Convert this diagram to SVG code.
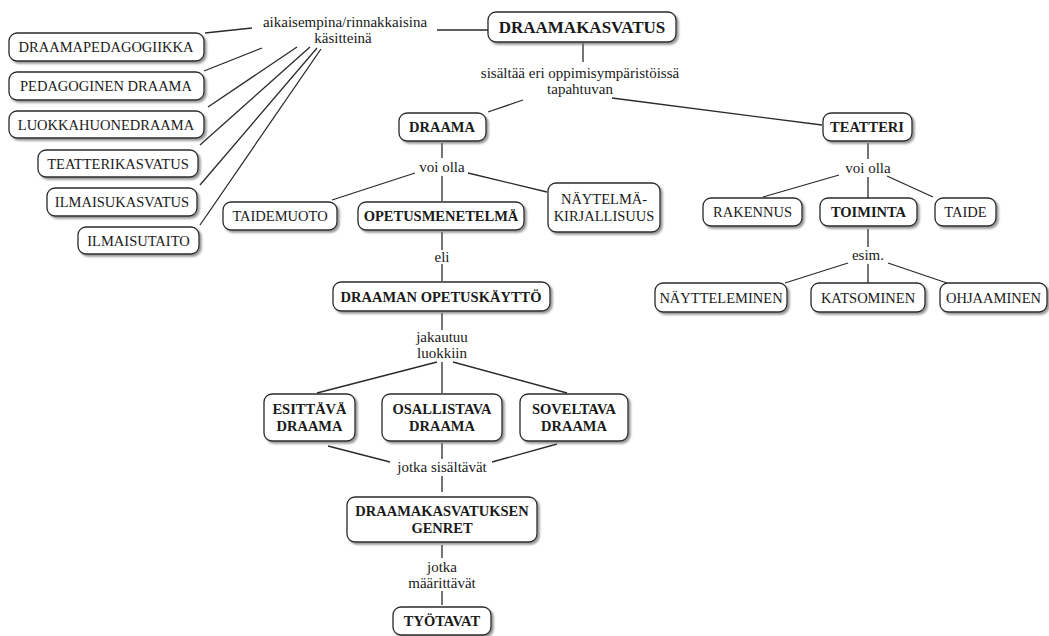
<svg xmlns="http://www.w3.org/2000/svg" width="1049" height="636" viewBox="0 0 1049 636">
<defs>
<filter id="sh" x="-10%" y="-20%" width="130%" height="160%">
<feDropShadow dx="2" dy="2" stdDeviation="1.3" flood-color="#777" flood-opacity="0.8"/>
</filter>
</defs>
<style>
.b{fill:#fff;stroke:#2a2a2a;stroke-width:1.3;filter:url(#sh)}
.t{font-family:'Liberation Serif','Times New Roman',serif;font-size:15px;fill:#1a1a1a;text-anchor:middle;dominant-baseline:central}
.u{font-size:14.5px}
.bd{font-weight:bold;font-size:14.5px}
.big{font-size:17px}
.c line{stroke:#2a2a2a;stroke-width:1.3}
</style>
<rect width="1049" height="636" fill="#fff"/>
<g class="c">
<line x1="437" y1="30" x2="488" y2="30"/>
<line x1="205" y1="33" x2="252" y2="28"/>
<line x1="204" y1="71" x2="262" y2="48"/>
<line x1="208" y1="107" x2="297" y2="47"/>
<line x1="200" y1="145" x2="310" y2="47"/>
<line x1="200" y1="185" x2="317" y2="48"/>
<line x1="200" y1="225" x2="321" y2="49"/>
<line x1="583" y1="43" x2="583" y2="62"/>
<line x1="523" y1="100" x2="488" y2="112"/>
<line x1="612" y1="98" x2="822" y2="125"/>
<line x1="442" y1="143" x2="442" y2="158"/>
<line x1="442" y1="176" x2="442" y2="201"/>
<line x1="415" y1="173" x2="332" y2="200"/>
<line x1="468" y1="173" x2="547" y2="192"/>
<line x1="442" y1="232" x2="442" y2="250"/>
<line x1="442" y1="264" x2="442" y2="281"/>
<line x1="442" y1="313" x2="442" y2="330"/>
<line x1="437" y1="362" x2="317" y2="393"/>
<line x1="442" y1="362" x2="442" y2="393"/>
<line x1="453" y1="362" x2="567" y2="393"/>
<line x1="328" y1="446" x2="390" y2="462"/>
<line x1="442" y1="443" x2="442" y2="459"/>
<line x1="557" y1="444" x2="492" y2="462"/>
<line x1="442" y1="476" x2="442" y2="492"/>
<line x1="442" y1="545" x2="442" y2="558"/>
<line x1="442" y1="591" x2="442" y2="605"/>
<line x1="868" y1="143" x2="868" y2="159"/>
<line x1="868" y1="177" x2="868" y2="198"/>
<line x1="839" y1="175" x2="763" y2="197"/>
<line x1="887" y1="176" x2="933" y2="197"/>
<line x1="868" y1="229" x2="868" y2="247"/>
<line x1="868" y1="264" x2="868" y2="283"/>
<line x1="848" y1="263" x2="785" y2="283"/>
<line x1="888" y1="263" x2="947" y2="283"/>
</g>
<g id="labels">
<text class="t" x="345" y="22">aikaisempina/rinnakkaisina</text>
<text class="t" x="343" y="38">käsitteinä</text>
<text class="t" x="580" y="73">sisältää eri oppimisympäristöissä</text>
<text class="t" x="580" y="89">tapahtuvan</text>
<text class="t" x="442" y="167">voi olla</text>
<text class="t" x="442" y="257">eli</text>
<text class="t" x="442" y="337">jakautuu</text>
<text class="t" x="442" y="353">luokkiin</text>
<text class="t" x="442" y="467">jotka sisältävät</text>
<text class="t" x="442" y="567">jotka</text>
<text class="t" x="442" y="583">määrittävät</text>
<text class="t" x="868" y="168">voi olla</text>
<text class="t" x="868" y="255">esim.</text>
</g>
<g id="n-draamakasvatus"><rect class="b" x="488" y="12" width="188" height="30" rx="8"/><text class="t bd big" x="582" y="27">DRAAMAKASVATUS</text></g>
<g id="n-draamapedagogiikka"><rect class="b" x="9" y="33" width="195" height="28" rx="8"/><text class="t u" x="106" y="47">DRAAMAPEDAGOGIIKKA</text></g>
<g id="n-pedagoginen"><rect class="b" x="9" y="72" width="195" height="28" rx="8"/><text class="t u" x="106" y="86">PEDAGOGINEN DRAAMA</text></g>
<g id="n-luokkahuone"><rect class="b" x="9" y="111" width="195" height="27" rx="8"/><text class="t u" x="106" y="124.5">LUOKKAHUONEDRAAMA</text></g>
<g id="n-teatterikasvatus"><rect class="b" x="38" y="150" width="160" height="27" rx="8"/><text class="t u" x="118" y="163.5">TEATTERIKASVATUS</text></g>
<g id="n-ilmaisukasvatus"><rect class="b" x="47" y="188" width="150" height="28" rx="8"/><text class="t u" x="122" y="202">ILMAISUKASVATUS</text></g>
<g id="n-ilmaisutaito"><rect class="b" x="78" y="227" width="121" height="27" rx="8"/><text class="t u" x="138.5" y="240.5">ILMAISUTAITO</text></g>
<g id="n-draama"><rect class="b" x="399" y="113" width="87" height="28" rx="8"/><text class="t bd" x="442" y="127">DRAAMA</text></g>
<g id="n-teatteri"><rect class="b" x="823" y="113" width="89" height="28" rx="8"/><text class="t bd" x="867" y="127">TEATTERI</text></g>
<g id="n-taidemuoto"><rect class="b" x="223" y="202" width="114" height="28" rx="8"/><text class="t u" x="280" y="216">TAIDEMUOTO</text></g>
<g id="n-opetusmenetelma"><rect class="b" x="358" y="202" width="166" height="28" rx="8"/><text class="t bd" x="441" y="216">OPETUSMENETELMÄ</text></g>
<g id="n-naytelmakirjallisuus"><rect class="b" x="548" y="183" width="112" height="49" rx="8"/><text class="t u" x="604" y="199">NÄYTELMÄ-</text><text class="t u" x="604" y="216">KIRJALLISUUS</text></g>
<g id="n-opetuskaytto"><rect class="b" x="333" y="282" width="217" height="29" rx="8"/><text class="t bd" x="441" y="296.5">DRAAMAN OPETUSKÄYTTÖ</text></g>
<g id="n-esittava"><rect class="b" x="264" y="394" width="91" height="47" rx="8"/><text class="t bd" x="309.5" y="409">ESITTÄVÄ</text><text class="t bd" x="309.5" y="426">DRAAMA</text></g>
<g id="n-osallistava"><rect class="b" x="382" y="394" width="120" height="47" rx="8"/><text class="t bd" x="442" y="409">OSALLISTAVA</text><text class="t bd" x="442" y="426">DRAAMA</text></g>
<g id="n-soveltava"><rect class="b" x="520" y="394" width="108" height="47" rx="8"/><text class="t bd" x="574" y="409">SOVELTAVA</text><text class="t bd" x="574" y="426">DRAAMA</text></g>
<g id="n-genret"><rect class="b" x="347" y="497" width="190" height="45" rx="8"/><text class="t bd" x="442" y="511">DRAAMAKASVATUKSEN</text><text class="t bd" x="442" y="528">GENRET</text></g>
<g id="n-tyotavat"><rect class="b" x="393" y="607" width="98" height="28" rx="8"/><text class="t bd" x="442" y="621">TYÖTAVAT</text></g>
<g id="n-rakennus"><rect class="b" x="703" y="198" width="99" height="28" rx="8"/><text class="t u" x="752.5" y="212">RAKENNUS</text></g>
<g id="n-toiminta"><rect class="b" x="820" y="198" width="97" height="28" rx="8"/><text class="t bd" x="868.5" y="212">TOIMINTA</text></g>
<g id="n-taide"><rect class="b" x="935" y="198" width="61" height="28" rx="8"/><text class="t u" x="965.5" y="212">TAIDE</text></g>
<g id="n-nayttaleminen"><rect class="b" x="655" y="283" width="132" height="29" rx="8"/><text class="t u" x="721" y="297.5">NÄYTTELEMINEN</text></g>
<g id="n-katsominen"><rect class="b" x="811" y="283" width="114" height="29" rx="8"/><text class="t u" x="868" y="297.5">KATSOMINEN</text></g>
<g id="n-ohjaaminen"><rect class="b" x="940" y="283" width="107" height="29" rx="8"/><text class="t u" x="993.5" y="297.5">OHJAAMINEN</text></g>
</svg>
